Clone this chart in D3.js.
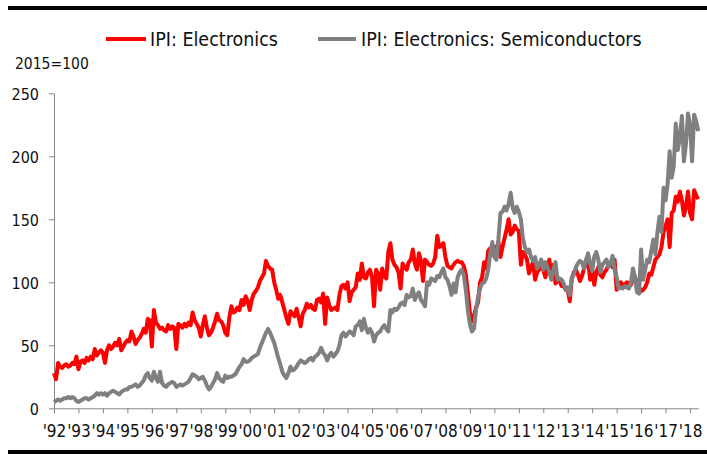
<!DOCTYPE html>
<html>
<head>
<meta charset="utf-8">
<script src="https://cdn.jsdelivr.net/npm/d3@7"></script>
<style>
  html, body { margin: 0; padding: 0; background: #ffffff; }
  svg { display: block; }
  text { font-family: "DejaVu Sans Condensed", "DejaVu Sans", sans-serif; font-stretch: condensed; fill: #111111; }
</style>
</head>
<body>
<script>
// Monthly values, Jan 1992 .. May 2018 (2015=100)
const electronics = [
  28, 23, 36, 33, 32, 34, 35, 33, 34, 36, 35, 41,       // 1992
  31, 37, 38, 36, 40, 38, 41, 39, 47, 42, 44, 46,       // 1993
  44, 36, 46, 50, 47, 49, 52, 50, 55, 46, 49, 52,       // 1994
  54, 53, 61, 57, 51, 54, 56, 59, 63, 60, 71, 70,       // 1995
  49, 78, 68, 66, 63, 64, 62, 61, 66, 63, 65, 64,       // 1996
  47, 67, 66, 64, 67, 65, 68, 66, 76, 70, 67, 64,       // 1997
  57, 66, 73, 64, 58, 60, 64, 69, 75, 70, 69, 66,       // 1998
  60, 58, 72, 81, 76, 77, 80, 78, 86, 82, 89, 85,       // 1999
  78, 86, 91, 93, 96, 101, 104, 107, 117, 113, 111, 110, // 2000
  100, 94, 87, 90, 84, 78, 72, 67, 77, 75, 73, 79,      // 2001
  72, 65, 75, 78, 83, 80, 82, 79, 78, 86, 87, 84,       // 2002
  91, 67, 88, 82, 78, 79, 80, 78, 90, 97, 98, 95,       // 2003
  100, 85, 92, 94, 96, 107, 102, 115, 104, 103, 108, 110, // 2004
  104, 81, 110, 107, 94, 111, 105, 103, 124, 131, 118, 114, // 2005
  112, 108, 95, 115, 112, 110, 116, 118, 126, 115, 110, 123, // 2006
  117, 101, 118, 116, 114, 113, 115, 120, 137, 128, 129, 131, // 2007
  120, 113, 112, 111, 114, 116, 117, 116, 116, 113, 106, 92, // 2008
  76, 69, 73, 80, 84, 100, 104, 116, 111, 125, 127, 122, // 2009
  128, 126, 132, 120, 128, 135, 142, 150, 138, 140, 145, 142, // 2010
  141, 114, 124, 122, 118, 107, 112, 116, 102, 108, 110, 114, // 2011
  110, 104, 112, 118, 103, 114, 99, 101, 102, 97, 97, 94, // 2012
  94, 85, 103, 108, 110, 106, 101, 105, 111, 114, 117, 102, // 2013
  110, 98, 108, 112, 106, 104, 108, 110, 114, 115, 112, 118, // 2014
  94, 97, 100, 98, 98, 100, 99, 98, 103, 104, 100, 96,  // 2015
  93, 94, 96, 100, 107, 106, 112, 118, 120, 122, 128, 140, // 2016
  145, 150, 128, 155, 157, 168, 164, 172, 165, 153, 160, 172, // 2017
  155, 150, 173, 169, 166                               // 2018
];
const semiconductors = [
  5, 6, 7, 6, 7, 8, 8, 9, 8, 9, 8, 6,                   // 1992
  5, 6, 7, 8, 8, 7, 8, 9, 10, 12, 11, 12,               // 1993
  11, 12, 10, 12, 13, 14, 13, 12, 11, 13, 14, 15,       // 1994
  15, 17, 17, 18, 19, 17, 18, 20, 22, 26, 28, 24,       // 1995
  22, 29, 24, 21, 29, 20, 18, 17, 19, 20, 21, 20,       // 1996
  17, 18, 19, 18, 19, 20, 21, 24, 27, 26, 25, 23,       // 1997
  24, 25, 22, 18, 15, 17, 20, 23, 28, 24, 22, 21,       // 1998
  26, 24, 25, 25, 26, 27, 30, 33, 35, 39, 37, 37,       // 1999
  38, 40, 41, 42, 43, 48, 52, 56, 60, 63, 60, 56,       // 2000
  52, 46, 40, 35, 29, 26, 24, 28, 33, 30, 31, 33,       // 2001
  36, 38, 37, 36, 37, 39, 40, 38, 41, 42, 44, 48,       // 2002
  44, 42, 38, 42, 44, 41, 43, 45, 50, 58, 60, 57,       // 2003
  59, 61, 60, 58, 65, 66, 69, 62, 71, 64, 60, 63,       // 2004
  60, 53, 58, 60, 61, 64, 66, 63, 61, 78, 76, 79,       // 2005
  78, 80, 83, 84, 82, 90, 88, 89, 95, 86, 90, 92,       // 2006
  86, 84, 81, 100, 98, 103, 102, 101, 105, 104, 108, 111, // 2007
  104, 102, 97, 90, 99, 92, 104, 108, 110, 106, 94, 78, // 2008
  67, 61, 63, 78, 88, 95, 99, 100, 103, 110, 123, 132,  // 2009
  120, 118, 134, 155, 156, 160, 157, 162, 171, 159, 155, 160, // 2010
  156, 150, 135, 128, 124, 126, 120, 117, 120, 111, 114, 118, // 2011
  110, 116, 112, 108, 102, 110, 116, 102, 103, 102, 99, 94, // 2012
  96, 90, 104, 106, 112, 115, 117, 116, 111, 118, 123, 115, // 2013
  109, 120, 124, 118, 108, 114, 116, 118, 112, 115, 121, 110, // 2014
  104, 95, 96, 95, 97, 96, 95, 100, 111, 104, 92, 91,   // 2015
  126, 102, 110, 118, 116, 125, 134, 122, 140, 152, 140, 175, // 2016
  165, 178, 204, 183, 192, 226, 205, 215, 232, 196, 210, 234, // 2017
  225, 196, 233, 228, 220                               // 2018
];
const yearLabels = ["'92","'93","'94","'95","'96","'97","'98","'99","'00","'01","'02","'03","'04",
                    "'05","'06","'07","'08","'09","'10","'11","'12","'13","'14","'15","'16","'17","'18"];
const yTicks = [0, 50, 100, 150, 200, 250];
const seriesNames = ["IPI: Electronics", "IPI: Electronics: Semiconductors"];
const seriesColors = ["#ff0000", "#808080"];
const unitLabel = "2015=100";

const W = 707, H = 454;
const svg = d3.select("body").append("svg").attr("width", W).attr("height", H);

// frame bars
svg.append("rect").attr("x", 8).attr("y", 6).attr("width", W - 8).attr("height", 4).attr("fill", "#000");
svg.append("rect").attr("x", 8).attr("y", 450).attr("width", W - 8).attr("height", 4).attr("fill", "#000");

const x = d3.scaleLinear().domain([0, electronics.length - 1]).range([54, 698.2]);
const y = d3.scaleLinear().domain([0, 250]).range([408.3, 93.3]);

const axisColor = "#888888";

// y axis
const yAxis = svg.append("g").attr("transform", "translate(54,0)")
  .call(d3.axisLeft(y).tickValues(yTicks).tickSize(5).tickSizeOuter(0).tickPadding(10));
yAxis.selectAll("path, line").attr("stroke", axisColor);
yAxis.selectAll("text").attr("font-size", 16).attr("dy", "0.4em")
  .style("font-family", '"DejaVu Sans Condensed", "DejaVu Sans", sans-serif').attr("fill", "#111");

// x axis
const xAxis = svg.append("g").attr("transform", "translate(0,408.3)")
  .call(d3.axisBottom(x).tickValues(d3.range(0, yearLabels.length * 12, 12))
    .tickFormat((d, i) => yearLabels[i]).tickSize(5).tickSizeOuter(0).tickPadding(11.5));
xAxis.selectAll("path, line").attr("stroke", axisColor);
xAxis.selectAll("text").attr("font-size", 17)
  .style("font-family", '"DejaVu Sans Condensed", "DejaVu Sans", sans-serif').attr("fill", "#111");

// lines: red first, gray on top
const line = d3.line().x((d, i) => x(i)).y(d => y(d));
[electronics, semiconductors].forEach((s, k) => {
  svg.append("path").datum(s)
    .attr("fill", "none")
    .attr("stroke", seriesColors[k])
    .attr("stroke-width", 4)
    .attr("stroke-linejoin", "round")
    .attr("d", line);
});

// legend
const legend = [
  { x1: 106, x2: 146, tx: 150 },
  { x1: 318, x2: 356, tx: 361 }
];
legend.forEach((l, k) => {
  svg.append("line").attr("x1", l.x1).attr("x2", l.x2).attr("y1", 39).attr("y2", 39)
    .attr("stroke", seriesColors[k]).attr("stroke-width", 4);
  svg.append("text").attr("x", l.tx).attr("y", 46).attr("font-size", 19.5).text(seriesNames[k]);
});

// unit label
svg.append("text").attr("x", 15).attr("y", 69).attr("font-size", 15.5).text(unitLabel);
</script>
</body>
</html>
